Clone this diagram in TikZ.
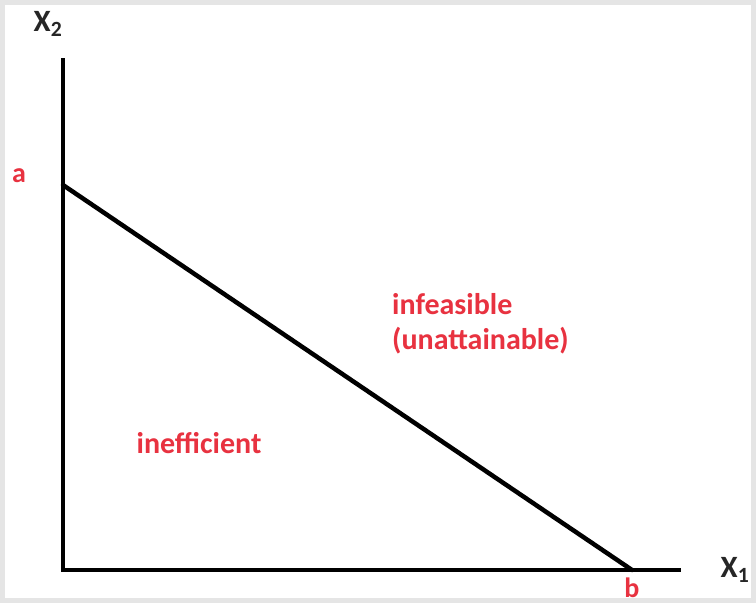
\documentclass[tikz,border=0pt]{standalone}
\usepackage{fontspec}
\setmainfont{Carlito}
\begin{document}
\begin{tikzpicture}[x=1pt,y=-1pt,
  axis/.style={line width=4.5pt, line cap=butt},
  redlbl/.style={text=lblred, font=\bfseries\fontsize{30}{35}\selectfont, inner sep=0pt},
  ptlbl/.style={redlbl, font=\bfseries\fontsize{28}{32}\selectfont, anchor=base},
  axlbl/.style={text=black!85, font=\bfseries\fontsize{31}{36}\selectfont, inner sep=0pt}]
\definecolor{lblred}{RGB}{232,50,64}
\fill[black!10] (0,0) rectangle (756,603);
\fill[white] (5,5) rectangle (751,598);
\useasboundingbox (0,0) rectangle (756,603);
\coordinate (top) at (63,58);
\coordinate (o) at (63,570);
\coordinate (right) at (681,570);
\coordinate (A) at (63,185);
\coordinate (B) at (632,570);
\draw[axis] (top) -- (o) -- (right);
\draw[axis, line cap=round] (A) -- (B);
\node[axlbl] (x2) at (48,24) {X\textsubscript{2}};
\node[axlbl] (x1) at (735,570) {X\textsubscript{1}};
\node[ptlbl] (a) at (19,182) {a};
\node[ptlbl] (b) at (632,597) {b};
\node[redlbl, align=left, anchor=west] (inf) at (392,324) {infeasible\\(unattainable)};
\node[redlbl] (ineff) at (199,443) {inefficient};
\end{tikzpicture}
\end{document}
